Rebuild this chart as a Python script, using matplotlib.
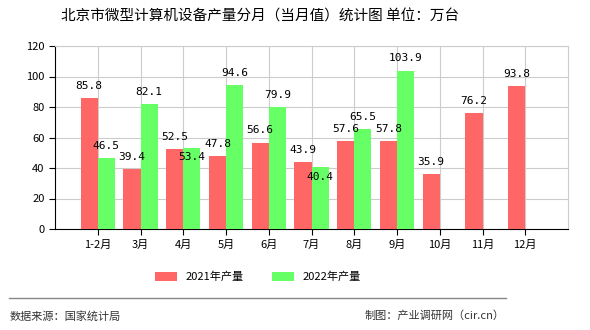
import numpy as np
import matplotlib.pyplot as plt

plt.rcParams['font.family'] = ['Noto Sans CJK SC', 'DejaVu Sans']

months = ['1-2月', '3月', '4月', '5月', '6月', '7月', '8月', '9月', '10月', '11月', '12月']
prod_2021 = [85.8, 39.4, 52.5, 47.8, 56.6, 43.9, 57.6, 57.8, 35.9, 76.2, 93.8]
prod_2022 = [46.5, 82.1, 53.4, 94.6, 79.9, 40.4, 65.5, 103.9]

fig = plt.figure(figsize=(5.9, 3.3), dpi=100)
ax = fig.add_axes([55/590, 1 - 229/330, 513/590, 183/330])

x = np.arange(len(months))
w = 0.4
red = '#ff6666'
green = '#66ff66'
ax.bar(x - w/2, prod_2021, width=w, color=red, label='2021年产量', zorder=3)
x2 = x[:len(prod_2022)]
ax.bar(x2 + w/2, prod_2022, width=w, color=green, label='2022年产量', zorder=3)

for xi, v in zip(x, prod_2021):
    ax.text(xi - w/2, v + 8, f'{v}', ha='center', va='center', fontsize=8,
            family='DejaVu Sans Mono', zorder=4)
for xi, v, r in zip(x2, prod_2022, prod_2021):
    # labels that would hit the red one get pushed below the bar top
    y = v - 6 if abs(v - r) < 5 else v + 8
    ax.text(xi + w/2, y, f'{v}', ha='center', va='center', fontsize=8,
            family='DejaVu Sans Mono', zorder=4)

ax.set_xlim(-1, 11)
ax.set_ylim(0, 120)
ax.set_yticks(range(0, 121, 20))
ax.set_xticks(x)
ax.set_xticklabels(months, fontsize=8)
ax.tick_params(axis='y', labelsize=8, length=4)
ax.tick_params(axis='x', length=4)
ax.grid(True, color='#cccccc', linewidth=0.8, zorder=0)
for s in ['top', 'right']:
    ax.spines[s].set_color('#cccccc')
ax.spines['left'].set_color('black')
ax.spines['bottom'].set_color('black')

fig.text(260/590, 1 - 17/330, '北京市微型计算机设备产量分月（当月值）统计图 单位：万台',
         ha='center', va='center', fontsize=10.5)

fig.legend(loc='center', bbox_to_anchor=(258/590, 1 - 277/330), ncol=2, frameon=False,
           fontsize=8, handlelength=2, handleheight=0.8, columnspacing=2.5)

fig.add_artist(plt.Line2D([9/590, 506/590], [1 - 298/330, 1 - 298/330],
                          color='#888888', linewidth=1))
fig.text(10/590, 1 - 316/330, '数据来源：国家统计局', ha='left', va='center',
         fontsize=8, color='#333333')
fig.text(505/590, 1 - 316/330, '制图：产业调研网（cir.cn）', ha='right', va='center',
         fontsize=8, color='#333333')

fig.savefig('out.png', dpi=100)
